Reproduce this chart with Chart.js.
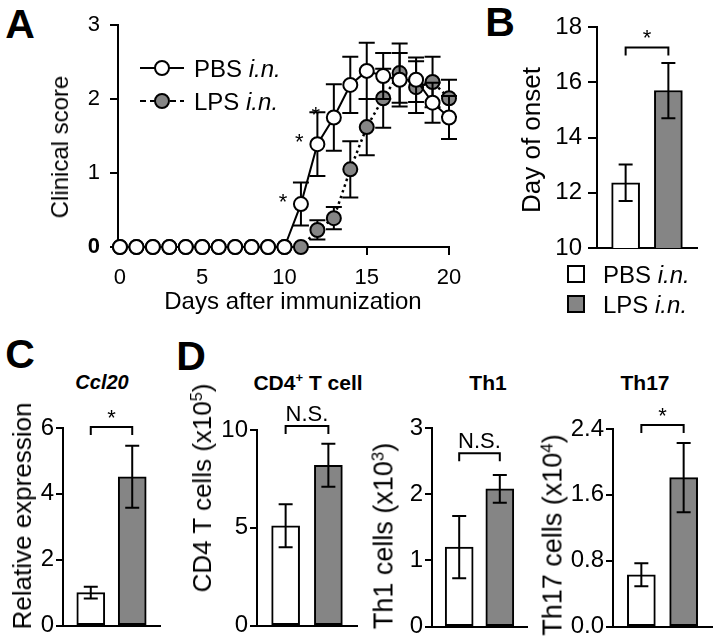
<!DOCTYPE html>
<html>
<head>
<meta charset="utf-8">
<script src="https://cdn.jsdelivr.net/npm/chart.js@4.4.0/dist/chart.umd.min.js"></script>
<style>
  body { margin: 0; background: #fff; }
  #fig { position: relative; width: 714px; height: 642px; overflow: hidden; font-family: 'Liberation Sans', Arial, sans-serif; color: #000; }
  #fig canvas { position: absolute; }
  .lbl { position: absolute; white-space: nowrap; line-height: 1; transform: translate(-50%, -50%); }
  .rot { transform: translate(-50%, -50%) rotate(-90deg); }
  .letter { font-weight: bold; font-size: 41px; }
  .ttl { font-weight: bold; font-size: 21px; }
  .ax { font-size: 26px; }
  sup { font-size: 0.62em; vertical-align: 0.55em; line-height: 0; }
</style>
</head>
<body>
<div id="fig">
  <canvas id="chartA" width="420" height="300" style="left:60px;top:0px"></canvas>
  <canvas id="chartB" width="169" height="320" style="left:545px;top:0px"></canvas>
  <canvas id="chartC" width="155" height="247" style="left:15px;top:395px"></canvas>
  <canvas id="chartCD4" width="155" height="247" style="left:210px;top:395px"></canvas>
  <canvas id="chartTh1" width="150" height="248" style="left:385px;top:395px"></canvas>
  <canvas id="chartTh17" width="154" height="248" style="left:560px;top:395px"></canvas>

  <div class="lbl letter" style="left:20px;top:24px">A</div>
  <div class="lbl letter" style="left:500px;top:22px">B</div>
  <div class="lbl letter" style="left:20px;top:354px">C</div>
  <div class="lbl letter" style="left:191px;top:356px">D</div>

  <div class="lbl rot" style="left:60px;top:147px;font-size:24px">Clinical score</div>
  <div class="lbl" style="left:293px;top:301px;font-size:24px">Days after immunization</div>
  <div class="lbl rot ax" style="left:531px;top:140px">Day of onset</div>

  <div class="lbl ttl" style="left:102px;top:382px;font-style:italic;font-size:20px">Ccl20</div>
  <div class="lbl ttl" style="left:308px;top:382px">CD4<sup>+</sup> T cell</div>
  <div class="lbl ttl" style="left:488px;top:382px">Th1</div>
  <div class="lbl ttl" style="left:645px;top:382px">Th17</div>

  <div class="lbl rot ax" style="left:22px;top:516px">Relative expression</div>
  <div class="lbl rot ax" style="left:202px;top:488px">CD4 T cells (x10<sup>5</sup>)</div>
  <div class="lbl rot ax" style="left:384px;top:536px;font-size:27px">Th1 cells (x10<sup>3</sup>)</div>
  <div class="lbl rot ax" style="left:553px;top:535px;font-size:27px">Th17 cells (x10<sup>4</sup>)</div>
</div>

<script>
// --- data ---
const groups = ['PBS i.n.', 'LPS i.n.'];

// A: clinical score by day
const days = [0, 1, 2, 3, 4, 5, 6, 7, 8, 9, 10, 11, 12, 13, 14, 15, 16, 17, 18, 19, 20];
const pbsScore = [0, 0, 0, 0, 0, 0, 0, 0, 0, 0, 0, 0.58, 1.39, 1.75, 2.19, 2.38, 2.31, 2.26, 2.26, 1.95, 1.75];
const pbsSem = [0, 0, 0, 0, 0, 0, 0, 0, 0, 0, 0, 0.29, 0.43, 0.45, 0.38, 0.38, 0.31, 0.36, 0.30, 0.27, 0.29];
const lpsScore = [0, 0, 0, 0, 0, 0, 0, 0, 0, 0, 0, 0, 0.23, 0.39, 1.05, 1.62, 2.01, 2.35, 2.16, 2.23, 2.01];
const lpsSem = [0, 0, 0, 0, 0, 0, 0, 0, 0, 0, 0, 0, 0.13, 0.15, 0.38, 0.38, 0.40, 0.40, 0.35, 0.34, 0.25];
const starDays = [11, 12, 13];
const dayTicks = [0, 5, 10, 15, 20];
const scoreTicks = [0, 1, 2, 3];

// B: day of onset
const onsetMean = [12.36, 15.7];
const onsetSem = [0.66, 1.0];
const onsetTicks = [10, 12, 14, 16, 18];

// C: Ccl20
const ccl20Mean = [1.0, 4.52];
const ccl20Sem = [0.18, 0.94];
const ccl20Ticks = [0, 2, 4, 6];

// D: cell counts
const cd4Mean = [5.1, 8.2];
const cd4Sem = [1.1, 1.1];
const cd4Ticks = [0, 5, 10];
const th1Mean = [1.2, 2.08];
const th1Sem = [0.47, 0.21];
const th1Ticks = [0, 1, 2, 3];
const th17Mean = [0.63, 1.81];
const th17Sem = [0.14, 0.42];
const th17Ticks = [0, 0.8, 1.6, 2.4];

const FONT = "'Liberation Sans', Arial, Helvetica, sans-serif";
const PBS_FILL = '#ffffff';
const LPS_FILL = '#858585';
const BAR_MIN = -0.67, BAR_MAX = 1.67; // index range of the bar panels

Chart.defaults.font.family = FONT;
Chart.defaults.color = '#000';

// "PBS i.n." with the i.n. part in italics
function drawGroupLabel(ctx, text, x, y, size) {
  const parts = text.split(' ');
  ctx.font = size + 'px ' + FONT;
  ctx.textAlign = 'left';
  ctx.textBaseline = 'alphabetic';
  const head = parts[0] + ' ';
  ctx.fillText(head, x, y);
  const w = ctx.measureText(head).width;
  ctx.font = 'italic ' + size + 'px ' + FONT;
  ctx.fillText(parts.slice(1).join(' '), x + w, y);
}

function drawErrors(chart, i) {
  const ds = chart.data.datasets[i];
  if (!ds.errors) return;
  const meta = chart.getDatasetMeta(i);
  const ys = chart.scales.y;
  const ctx = chart.ctx;
  const hw = ds.capWidth / 2;
  ctx.save();
  ctx.strokeStyle = '#000';
  ctx.lineWidth = 2;
  meta.data.forEach((el, k) => {
    const e = ds.errors[k];
    if (!e) return;
    const v = ds.data[k].y;
    const top = ys.getPixelForValue(v + e);
    const bot = ys.getPixelForValue(v - e);
    ctx.beginPath();
    ctx.moveTo(el.x, top); ctx.lineTo(el.x, bot);
    ctx.moveTo(el.x - hw, top); ctx.lineTo(el.x + hw, top);
    ctx.moveTo(el.x - hw, bot); ctx.lineTo(el.x + hw, bot);
    ctx.stroke();
  });
  ctx.restore();
}

// error bars: behind the points for the line panel, on top of the bars elsewhere
const errorBars = {
  id: 'errorBars',
  beforeDatasetDraw(chart, args) { if (chart.config.type === 'line') drawErrors(chart, args.index); },
  afterDatasetDraw(chart, args) { if (chart.config.type === 'bar') drawErrors(chart, args.index); }
};

const sigBracket = {
  id: 'sigBracket',
  afterDraw(chart, args, opts) {
    if (!opts || opts.level == null) return;
    const meta = chart.getDatasetMeta(0);
    const x0 = meta.data[0].x, x1 = meta.data[1].x;
    const y = chart.scales.y.getPixelForValue(opts.level);
    const ctx = chart.ctx;
    ctx.save();
    ctx.strokeStyle = '#000';
    ctx.lineWidth = 2;
    ctx.beginPath();
    ctx.moveTo(x0, y + 8); ctx.lineTo(x0, y); ctx.lineTo(x1, y); ctx.lineTo(x1, y + 8);
    ctx.stroke();
    ctx.fillStyle = '#000';
    ctx.font = '22px ' + FONT;
    ctx.textAlign = 'center';
    ctx.textBaseline = 'alphabetic';
    ctx.fillText(opts.text, (x0 + x1) / 2, y - (opts.text === '*' ? 2 : 5));
    ctx.restore();
  }
};

const pointStars = {
  id: 'pointStars',
  afterDatasetsDraw(chart, args, opts) {
    const meta = chart.getDatasetMeta(0);
    const ctx = chart.ctx;
    ctx.save();
    ctx.fillStyle = '#000';
    ctx.font = '22px ' + FONT;
    ctx.textAlign = 'center';
    ctx.textBaseline = 'alphabetic';
    opts.days.forEach(d => {
      const el = meta.data[days.indexOf(d)];
      ctx.fillText('*', el.x - 18, el.y - 8 + 12.5);
    });
    ctx.restore();
  }
};

const lineLegend = {
  id: 'lineLegend',
  afterDraw(chart, args, opts) {
    const ctx = chart.ctx;
    opts.items.forEach((it, k) => {
      const y = opts.y + k * opts.gap;
      ctx.save();
      ctx.strokeStyle = '#000';
      ctx.lineWidth = 2;
      ctx.setLineDash(it.dash);
      ctx.beginPath();
      ctx.moveTo(opts.x, y); ctx.lineTo(opts.x + 44, y);
      ctx.stroke();
      ctx.setLineDash([]);
      ctx.beginPath();
      ctx.arc(opts.x + 22, y, 7, 0, Math.PI * 2);
      ctx.fillStyle = it.fill;
      ctx.fill();
      ctx.stroke();
      ctx.fillStyle = '#000';
      drawGroupLabel(ctx, groups[k], opts.x + 54, y + 8.5, 24);
      ctx.restore();
    });
  }
};

const boxLegend = {
  id: 'boxLegend',
  afterDraw(chart, args, opts) {
    const ctx = chart.ctx;
    opts.fills.forEach((fill, k) => {
      const y = opts.y + k * opts.gap;
      ctx.save();
      ctx.fillStyle = fill;
      ctx.fillRect(opts.x, y, 18, 18);
      ctx.strokeStyle = '#000';
      ctx.lineWidth = 2;
      ctx.strokeRect(opts.x + 1, y + 1, 16, 16);
      ctx.fillStyle = '#000';
      drawGroupLabel(ctx, groups[k], opts.x + 36, y + 9 + 8.5, 24);
      ctx.restore();
    });
  }
};

const axisGrid = (len) => ({ display: true, drawOnChartArea: false, drawTicks: true, tickLength: len, color: '#000', lineWidth: 2 });
const axisBorder = { display: true, color: '#000', width: 2 };

// Panel A
new Chart(document.getElementById('chartA'), {
  type: 'line',
  data: {
    datasets: [
      {
        label: groups[0],
        data: days.map((d, i) => ({ x: d, y: pbsScore[i] })),
        errors: pbsSem,
        capWidth: 16,
        borderColor: '#000',
        borderWidth: 2,
        pointBackgroundColor: PBS_FILL,
        pointBorderColor: '#000',
        pointBorderWidth: 2,
        pointRadius: 7,
        tension: 0,
        clip: false
      },
      {
        label: groups[1],
        data: days.map((d, i) => ({ x: d, y: lpsScore[i] })),
        errors: lpsSem,
        capWidth: 16,
        borderColor: '#000',
        borderWidth: 2.5,
        borderDash: [2.5, 3.5],
        pointBackgroundColor: LPS_FILL,
        pointBorderColor: '#000',
        pointBorderWidth: 2,
        pointRadius: 7,
        tension: 0,
        clip: false
      }
    ]
  },
  options: {
    responsive: false,
    animation: false,
    devicePixelRatio: 1,
    layout: { padding: { top: 25, right: 31, left: 0, bottom: 0 } },
    plugins: {
      legend: { display: false },
      tooltip: { enabled: false },
      pointStars: { days: starDays },
      lineLegend: { x: 80, y: 68, gap: 33, items: [{ dash: [], fill: PBS_FILL }, { dash: [6, 4], fill: LPS_FILL }] }
    },
    scales: {
      x: {
        type: 'linear', min: -0.12, max: 20,
        afterBuildTicks: s => { s.ticks = dayTicks.map(v => ({ value: v })); },
        ticks: { font: { size: 22 }, color: '#000', padding: 10, maxRotation: 0 },
        grid: axisGrid(8),
        border: axisBorder,
        afterFit: s => { s.height = 53; }
      },
      y: {
        type: 'linear', min: 0, max: 3,
        afterBuildTicks: s => { s.ticks = scoreTicks.map(v => ({ value: v })); },
        ticks: {
          font: c => ({ size: 22, weight: c.tick && c.tick.value === 0 ? 'bold' : 'normal' }),
          color: '#000', padding: 10
        },
        grid: axisGrid(8),
        border: axisBorder,
        afterFit: s => { s.width = 58; }
      }
    }
  },
  plugins: [errorBars, pointStars, lineLegend]
});

function barChart(id, cfg) {
  return new Chart(document.getElementById(id), {
    type: 'bar',
    data: {
      datasets: [{
        data: groups.map((g, i) => ({ x: i, y: cfg.mean[i] })),
        errors: cfg.sem,
        capWidth: 14,
        backgroundColor: [PBS_FILL, LPS_FILL],
        borderColor: '#000',
        borderWidth: 2,
        borderSkipped: false,
        barThickness: 28
      }]
    },
    options: {
      responsive: false,
      animation: false,
      devicePixelRatio: 1,
      layout: { padding: { top: cfg.padTop, right: cfg.padRight, left: 0, bottom: 0 } },
      plugins: Object.assign({
        legend: { display: false },
        tooltip: { enabled: false },
        sigBracket: { level: cfg.sigLevel, text: cfg.sigText }
      }, cfg.pluginOpts || {}),
      scales: {
        x: {
          type: 'linear', min: BAR_MIN, max: BAR_MAX,
          offset: false, bounds: 'data', grace: 0,
          afterDataLimits: s => { s.min = BAR_MIN; s.max = BAR_MAX; },
          afterBuildTicks: s => { s.ticks = [{ value: BAR_MIN }, { value: BAR_MAX }]; },
          ticks: { display: false },
          grid: { display: false, drawTicks: false },
          border: axisBorder,
          afterFit: s => { s.height = cfg.xHeight; }
        },
        y: {
          type: 'linear', min: cfg.ticks[0], max: cfg.ticks[cfg.ticks.length - 1],
          afterBuildTicks: s => { s.ticks = cfg.ticks.map(v => ({ value: v })); },
          ticks: { font: { size: 24 }, color: '#000', padding: cfg.tickPad, callback: cfg.fmt || (v => String(v)) },
          grid: axisGrid(cfg.tickLen),
          border: axisBorder,
          afterFit: s => { s.width = cfg.yWidth; }
        }
      }
    },
    plugins: [errorBars, sigBracket].concat(cfg.extra || [])
  });
}

// Panel B
barChart('chartB', {
  mean: onsetMean, sem: onsetSem, ticks: onsetTicks,
  sigLevel: 17.26, sigText: '*',
  padTop: 27, padRight: 17, xHeight: 72, yWidth: 52, tickLen: 9, tickPad: 6,
  pluginOpts: { boxLegend: { x: 22, y: 265, gap: 30, fills: [PBS_FILL, LPS_FILL] } },
  extra: [boxLegend]
});

// Panel C
barChart('chartC', {
  mean: ccl20Mean, sem: ccl20Sem, ticks: ccl20Ticks,
  sigLevel: 6.03, sigText: '*',
  padTop: 33, padRight: 10, xHeight: 15, yWidth: 48, tickLen: 7, tickPad: 2
});

// Panel D
barChart('chartCD4', {
  mean: cd4Mean, sem: cd4Sem, ticks: cd4Ticks,
  sigLevel: 10.2, sigText: 'N.S.',
  padTop: 35, padRight: 8, xHeight: 16, yWidth: 47, tickLen: 7, tickPad: 2
});
barChart('chartTh1', {
  mean: th1Mean, sem: th1Sem, ticks: th1Ticks,
  sigLevel: 2.62, sigText: 'N.S.',
  padTop: 33, padRight: 8, xHeight: 15, yWidth: 47, tickLen: 7, tickPad: 2
});
barChart('chartTh17', {
  mean: th17Mean, sem: th17Sem, ticks: th17Ticks,
  sigLevel: 2.45, sigText: '*',
  padTop: 34, padRight: 2, xHeight: 15, yWidth: 53, tickLen: 7, tickPad: 2,
  fmt: v => v.toFixed(1)
});
</script>
</body>
</html>
